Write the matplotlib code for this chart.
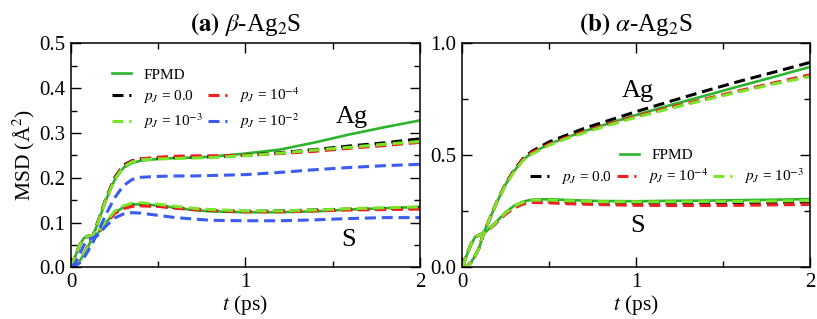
#!/usr/bin/env python3
import matplotlib
matplotlib.use("Agg")
import matplotlib.pyplot as plt
from matplotlib.ticker import MultipleLocator, FormatStrFormatter

plt.rcParams['font.family'] = ['Liberation Serif', 'DejaVu Serif']
plt.rcParams['mathtext.fontset'] = 'stix'

OUT_FILE = "out.png"

# time grid (ps)
t = [0, 0.025, 0.05, 0.075, 0.1, 0.125, 0.15, 0.2, 0.25, 0.3, 0.35, 0.4,
     0.5, 0.6, 0.7, 0.8, 1.0, 1.2, 1.4, 1.6, 1.8, 2.0]

# (a) beta-Ag2S, Ag
a_ag_fpmd = [0, 0.005, 0.014, 0.03, 0.048, 0.068, 0.095, 0.15, 0.195, 0.222, 0.233, 0.238,
             0.242, 0.244, 0.245, 0.247, 0.254, 0.263, 0.279, 0.297, 0.313, 0.328]
a_ag_p0 = [0, 0.005, 0.014, 0.03, 0.049, 0.07, 0.097, 0.153, 0.2, 0.228, 0.238, 0.242,
           0.244, 0.245, 0.246, 0.247, 0.25, 0.256, 0.263, 0.271, 0.278, 0.287]
a_ag_p4 = [0, 0.005, 0.014, 0.03, 0.049, 0.069, 0.096, 0.152, 0.198, 0.226, 0.237, 0.242,
           0.246, 0.248, 0.249, 0.249, 0.25, 0.254, 0.259, 0.266, 0.272, 0.279]
a_ag_p3 = [0, 0.005, 0.014, 0.03, 0.048, 0.068, 0.095, 0.15, 0.196, 0.224, 0.235, 0.24,
           0.242, 0.243, 0.244, 0.245, 0.249, 0.255, 0.262, 0.268, 0.275, 0.281]
a_ag_p2 = [0, 0.003, 0.01, 0.022, 0.038, 0.055, 0.075, 0.118, 0.155, 0.182, 0.196, 0.201,
           0.203, 0.204, 0.204, 0.205, 0.207, 0.212, 0.218, 0.223, 0.227, 0.23]

# (a) beta-Ag2S, S
a_s_fpmd = [0, 0.025, 0.05, 0.066, 0.07, 0.068, 0.074, 0.1, 0.122, 0.134, 0.14, 0.141,
            0.138, 0.133, 0.128, 0.125, 0.123, 0.123, 0.125, 0.129, 0.132, 0.135]
a_s_p0 = [0, 0.025, 0.05, 0.065, 0.07, 0.068, 0.074, 0.1, 0.122, 0.134, 0.14, 0.14,
          0.137, 0.133, 0.13, 0.127, 0.125, 0.126, 0.128, 0.13, 0.131, 0.133]
a_s_p4 = [0, 0.025, 0.05, 0.065, 0.07, 0.068, 0.073, 0.098, 0.12, 0.131, 0.136, 0.137,
          0.136, 0.132, 0.129, 0.127, 0.124, 0.124, 0.126, 0.128, 0.129, 0.13]
a_s_p3 = [0, 0.025, 0.05, 0.066, 0.07, 0.069, 0.075, 0.102, 0.125, 0.137, 0.143, 0.144,
          0.141, 0.136, 0.132, 0.129, 0.126, 0.126, 0.128, 0.131, 0.133, 0.135]
a_s_p2 = [0, 0.01, 0.03, 0.05, 0.062, 0.066, 0.07, 0.092, 0.11, 0.119, 0.122, 0.121,
          0.116, 0.111, 0.108, 0.105, 0.104, 0.104, 0.106, 0.109, 0.111, 0.111]

# (b) alpha-Ag2S, Ag
b_ag_fpmd = [0, 0.005, 0.02, 0.05, 0.09, 0.155, 0.2, 0.29, 0.37, 0.43, 0.48, 0.51,
             0.55, 0.58, 0.607, 0.632, 0.68, 0.725, 0.767, 0.81, 0.852, 0.895]
b_ag_p0 = [0, 0.005, 0.02, 0.05, 0.09, 0.155, 0.2, 0.292, 0.373, 0.435, 0.485, 0.517,
           0.56, 0.59, 0.62, 0.645, 0.695, 0.742, 0.788, 0.832, 0.873, 0.915]
b_ag_p4 = [0, 0.005, 0.02, 0.05, 0.09, 0.155, 0.2, 0.29, 0.37, 0.432, 0.482, 0.512,
           0.55, 0.58, 0.605, 0.63, 0.675, 0.715, 0.752, 0.79, 0.825, 0.86]
b_ag_p3 = [0, 0.005, 0.02, 0.05, 0.09, 0.155, 0.2, 0.29, 0.368, 0.428, 0.476, 0.505,
           0.545, 0.575, 0.6, 0.625, 0.67, 0.71, 0.748, 0.785, 0.82, 0.852]

# (b) alpha-Ag2S, S
b_s_fpmd = [0, 0.05, 0.1, 0.135, 0.145, 0.152, 0.168, 0.205, 0.245, 0.275, 0.293, 0.302,
            0.304, 0.301, 0.298, 0.296, 0.295, 0.297, 0.298, 0.3, 0.302, 0.305]
b_s_p0 = [0, 0.05, 0.1, 0.134, 0.145, 0.152, 0.167, 0.203, 0.242, 0.271, 0.289, 0.298,
          0.296, 0.292, 0.29, 0.288, 0.287, 0.287, 0.288, 0.289, 0.29, 0.292]
b_s_p4 = [0, 0.052, 0.102, 0.135, 0.145, 0.151, 0.165, 0.2, 0.237, 0.265, 0.282, 0.29,
          0.288, 0.284, 0.282, 0.28, 0.277, 0.276, 0.276, 0.277, 0.279, 0.281]
b_s_p3 = [0, 0.05, 0.1, 0.135, 0.145, 0.152, 0.167, 0.204, 0.243, 0.273, 0.291, 0.3,
          0.3, 0.297, 0.295, 0.293, 0.292, 0.292, 0.293, 0.294, 0.296, 0.298]

C_FPMD = '#2db42d'
C_P0 = 'black'
C_P4 = '#f02020'
C_P3 = '#7ae62a'
C_P2 = '#3a5cf0'

L_FPMD = 'FPMD'
L_P0 = r'$p_J$ = 0.0'
L_P4 = r'$p_J$ = 10$^{-4}$'
L_P3 = r'$p_J$ = 10$^{-3}$'
L_P2 = r'$p_J$ = 10$^{-2}$'

DASH = (3.6, 1.9)
LW_SOLID = 1.9
LW_DASH = 2.2


def style_axes(ax, ymax, ymajor, yminor):
    ax.set_xlim(0, 2)
    ax.set_ylim(0, ymax)
    ax.xaxis.set_major_locator(MultipleLocator(1))
    ax.xaxis.set_minor_locator(MultipleLocator(0.5))
    ax.yaxis.set_major_locator(MultipleLocator(ymajor))
    ax.yaxis.set_minor_locator(MultipleLocator(yminor))
    ax.yaxis.set_major_formatter(FormatStrFormatter('%.1f'))
    ax.tick_params(which='both', direction='in', top=True, right=True, width=1.0,
                   labelsize=15, pad=4)
    ax.tick_params(which='major', length=7.5)
    ax.tick_params(which='minor', length=4)
    for sp in ax.spines.values():
        sp.set_linewidth(1.1)
    ax.set_xlabel(r'$t$ (ps)', fontsize=15.5, labelpad=1)


def plot_msd():
    fig = plt.figure(figsize=(8.17, 3.19), dpi=100)
    ax1 = fig.add_axes([0.0869, 0.162, 0.427, 0.702])
    ax2 = fig.add_axes([0.5655, 0.162, 0.426, 0.702])

    # panel (a)
    h_fp, = ax1.plot(t, a_ag_fpmd, color=C_FPMD, lw=LW_SOLID, label=L_FPMD)
    ax1.plot(t, a_s_fpmd, color=C_FPMD, lw=LW_SOLID)
    h0, = ax1.plot(t, a_ag_p0, color=C_P0, lw=LW_DASH, dashes=DASH, label=L_P0)
    ax1.plot(t, a_s_p0, color=C_P0, lw=LW_DASH, dashes=DASH)
    h4, = ax1.plot(t, a_ag_p4, color=C_P4, lw=LW_DASH, dashes=DASH, label=L_P4)
    ax1.plot(t, a_s_p4, color=C_P4, lw=LW_DASH, dashes=DASH)
    h3, = ax1.plot(t, a_ag_p3, color=C_P3, lw=LW_DASH, dashes=DASH, label=L_P3)
    ax1.plot(t, a_s_p3, color=C_P3, lw=LW_DASH, dashes=DASH)
    h2, = ax1.plot(t, a_ag_p2, color=C_P2, lw=LW_DASH, dashes=DASH, label=L_P2)
    ax1.plot(t, a_s_p2, color=C_P2, lw=LW_DASH, dashes=DASH)

    style_axes(ax1, 0.5, 0.1, 0.05)
    ax1.set_ylabel(r'MSD (Å$^2$)', fontsize=15.5, labelpad=2)
    ax1.set_title(r'$\mathbf{(a)}\ \beta$-Ag$_2$S', fontsize=18, pad=9)
    ax1.text(1.61, 0.323, 'Ag', fontsize=19, ha='center', va='baseline')
    ax1.text(1.59, 0.048, 'S', fontsize=19, ha='center', va='baseline')

    leg_kw = dict(frameon=False, fontsize=11, handlelength=1.25, handletextpad=0.8,
                  borderpad=0, borderaxespad=0)
    lg1 = ax1.legend([h_fp], [L_FPMD], loc='center left',
                     bbox_to_anchor=(0.117, 0.86), **leg_kw)
    ax1.add_artist(lg1)
    ax1.legend([h0, h3, h4, h2], [L_P0, L_P3, L_P4, L_P2], ncol=2, loc='center left',
               bbox_to_anchor=(0.117, 0.71), columnspacing=0.3, labelspacing=0.4,
               **leg_kw)

    # panel (b)
    g_fp, = ax2.plot(t, b_ag_fpmd, color=C_FPMD, lw=LW_SOLID, label=L_FPMD)
    ax2.plot(t, b_s_fpmd, color=C_FPMD, lw=LW_SOLID)
    g0, = ax2.plot(t, b_ag_p0, color=C_P0, lw=LW_DASH, dashes=DASH, label=L_P0)
    ax2.plot(t, b_s_p0, color=C_P0, lw=LW_DASH, dashes=DASH)
    g4, = ax2.plot(t, b_ag_p4, color=C_P4, lw=LW_DASH, dashes=DASH, label=L_P4)
    ax2.plot(t, b_s_p4, color=C_P4, lw=LW_DASH, dashes=DASH)
    g3, = ax2.plot(t, b_ag_p3, color=C_P3, lw=LW_DASH, dashes=DASH, label=L_P3)
    ax2.plot(t, b_s_p3, color=C_P3, lw=LW_DASH, dashes=DASH)

    style_axes(ax2, 1.0, 0.5, 0.25)
    ax2.set_title(r'$\mathbf{(b)}\ \alpha$-Ag$_2$S', fontsize=18, pad=9)
    ax2.text(1.01, 0.762, 'Ag', fontsize=19, ha='center', va='baseline')
    ax2.text(1.01, 0.159, 'S', fontsize=19, ha='center', va='baseline')

    lg2 = ax2.legend([g_fp], [L_FPMD], loc='center left',
                     bbox_to_anchor=(0.454, 0.5), **leg_kw)
    ax2.add_artist(lg2)
    ax2.legend([g0, g4, g3], [L_P0, L_P4, L_P3], ncol=3, loc='center left',
               bbox_to_anchor=(0.195, 0.405), columnspacing=0.3, **leg_kw)

    fig.savefig(OUT_FILE, dpi=100)
    plt.close(fig)


if __name__ == '__main__':
    plot_msd()
